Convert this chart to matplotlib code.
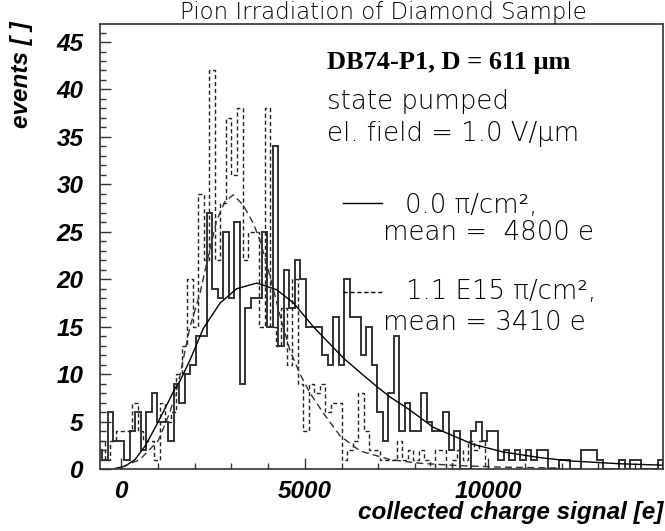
import numpy as np
import matplotlib.pyplot as plt
from matplotlib.ticker import MultipleLocator

# histogram contents (bin width 150 e)
solid_start = -675
solid_counts = [2, 1, 6, 3, 3, 1, 4, 6, 2, 6, 8, 5, 5, 3, 9, 7, 10, 11, 14, 14,
                27, 19, 18, 25, 18, 26, 9, 17, 18, 18, 25, 15, 34, 13, 21, 17, 22, 20, 15, 15,
                15, 12, 11, 16, 11, 20, 16, 16, 12, 15, 11, 6, 3, 8, 14, 4, 7, 4, 4, 8,
                5, 4, 4, 6, 2, 4, 0, 0, 4, 5, 3, 4, 4, 1, 2, 1, 2, 1, 2, 1,
                2, 2, 0, 0, 1, 1, 0, 0, 2, 2, 2, 1, 0, 0, 0, 1, 0, 1, 1, 0,
                0, 0, 1]

dashed_start = -600
dashed_counts = [3, 1, 3, 4, 4, 4, 7, 4, 3, 3, 1, 7, 5, 6, 10, 13, 20, 15, 29, 22,
                 42, 22, 28, 37, 31, 38, 22, 25, 25, 15, 38, 15, 13, 17, 11, 20, 9, 4, 9, 8,
                 9, 6, 7, 7, 1, 2, 3, 8, 4, 2, 2, 1, 1, 1, 3, 1, 2, 1, 2, 1,
                 0, 2, 2, 0, 1, 2, 1, 3, 2, 3, 0, 0]

# fitted curves, points
fit0_x = [-180, 100, 370, 640, 910, 1190, 1460, 1600, 1870, 2230, 2690, 3140, 3690, 4230,
          4690, 5230, 6050, 6500, 6960, 7320, 7870, 8500, 9590, 10400, 11410, 12230, 13600, 14770]
fit0_y = [0.05, 0.3, 1.0, 2.4, 4.3, 6.4, 8.5, 9.3, 11.5, 14.8, 17.5, 19.0, 19.6, 18.9,
          17.5, 15.0, 11.7, 10.2, 8.7, 7.6, 6.2, 4.4, 2.6, 1.8, 1.2, 0.85, 0.55, 0.4]

fit1_x = [0, 505, 1004, 1323, 1549, 1868, 2141, 2323, 2596, 2823, 3049, 3322, 3594, 3777,
          4050, 4369, 4595, 4868, 5141, 5503, 5959, 6504, 7322, 8140, 9231, 10322, 11958]
fit1_y = [0.2, 1.0, 3.0, 6.0, 9.0, 15.0, 18.5, 21.7, 26.2, 28.2, 28.9, 27.8, 25.9, 24.1,
          20.3, 15.5, 12.5, 10.0, 8.0, 5.9, 3.5, 1.9, 1.0, 0.6, 0.35, 0.2, 0.1]

solid_edges = solid_start + 150 * np.arange(len(solid_counts) + 1)
dashed_edges = dashed_start + 150 * np.arange(len(dashed_counts) + 1)

thin = dict(family="DejaVu Sans", fontweight="light", color="black", fontsize=18.7)
bold_it = dict(family="Liberation Sans", weight="bold", style="italic", size=17.5)

fig = plt.figure(figsize=(6.65, 5.31), dpi=100)
ax = fig.add_axes([100 / 665, 62 / 531, 563 / 665, 445 / 531])

ax.stairs(solid_counts, solid_edges, color="#333333", lw=1.4)
ax.stairs(dashed_counts, dashed_edges, color="#222222", lw=1.0, linestyle=(0, (3, 2)))
ax.plot(fit0_x, fit0_y, color="black", lw=1.0)
ax.plot(fit1_x, fit1_y, color="#333333", lw=1.0, linestyle=(0, (5, 3)))

ax.set_xlim(-586, 14767)
ax.set_ylim(0, 46.9)
ax.xaxis.set_major_locator(MultipleLocator(5000))
ax.xaxis.set_minor_locator(MultipleLocator(1000))
ax.yaxis.set_major_locator(MultipleLocator(5))
ax.yaxis.set_minor_locator(MultipleLocator(1))
ax.tick_params(which="both", direction="in", top=False, right=False, width=1.0, color="#333333")
ax.tick_params(which="major", length=8)
ax.tick_params(which="minor", length=4)
ax.tick_params(axis="y", pad=12)
ax.tick_params(axis="x", pad=8)
for lab in ax.get_xticklabels() + ax.get_yticklabels():
    lab.set_fontproperties(bold_it)
    lab.set_fontsize(17.5)
for s in ax.spines.values():
    s.set_linewidth(1.2)
    s.set_color("#333333")

fig.text(383 / 665, 1 - 13 / 531, "Pion Irradiation of Diamond Sample",
         ha="center", va="center", family="DejaVu Sans", fontweight="light",
         color="black", fontsize=16.5)
fig.text(663 / 665, 1 - 513 / 531, "collected charge signal [e]",
         ha="right", va="center", **bold_it)
fig.text(22 / 665, 1 - 75 / 531, "events [ ]", rotation=90,
         ha="center", va="center", **bold_it)

fig.text(327 / 665, 1 - 63 / 531, "DB74-P1, D = 611 \u03bcm", ha="left", va="center",
         family="Liberation Serif", fontweight="bold", fontsize=19)
fig.text(327 / 665, 1 - 101 / 531, "state pumped", ha="left", va="center", **thin)
fig.text(327 / 665, 1 - 134 / 531, "el. field = 1.0 V/\u03bcm", ha="left", va="center", **thin)

# legend samples
fig.lines.append(plt.Line2D([343 / 665, 382 / 665], [1 - 203 / 531, 1 - 203 / 531],
                            transform=fig.transFigure, color="black", lw=1.0))
fig.lines.append(plt.Line2D([343 / 665, 383 / 665], [1 - 292 / 531, 1 - 292 / 531],
                            transform=fig.transFigure, color="black", lw=1.0,
                            linestyle=(0, (3, 2))))
fig.text(405 / 665, 1 - 205 / 531, "0.0 \u03c0/cm\u00b2,", ha="left", va="center", **thin)
fig.text(383 / 665, 1 - 233 / 531, "mean =  4800 e", ha="left", va="center", **thin)
fig.text(406 / 665, 1 - 291 / 531, "1.1 E15 \u03c0/cm\u00b2,", ha="left", va="center", **thin)
fig.text(383 / 665, 1 - 322 / 531, "mean = 3410 e", ha="left", va="center", **thin)

fig.savefig("out.png", dpi=100)
